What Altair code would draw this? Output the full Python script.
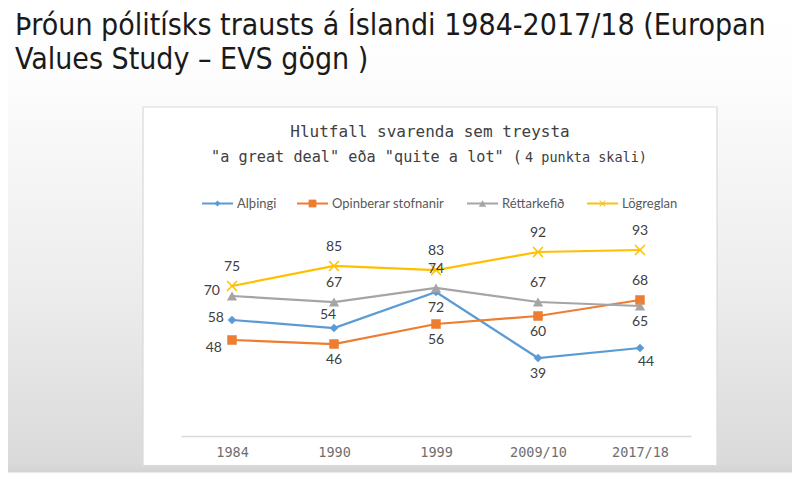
import altair as alt
import pandas as pd

years = ["1984", "1990", "1999", "2009/10", "2017/18"]
series = ["Alþingi", "Opinberar stofnanir", "Réttarkefið", "Lögreglan"]
althingi = [58, 54, 72, 39, 44]
opinberar = [48, 46, 56, 60, 68]
rettarkerfid = [70, 67, 74, 67, 65]
logreglan = [75, 85, 83, 92, 93]

colors = ["#5B9BD5", "#ED7D31", "#A5A5A5", "#FFC000"]
x_path = "M-1,-0.8L-0.8,-1L0,-0.2L0.8,-1L1,-0.8L0.2,0L1,0.8L0.8,1L0,0.2L-0.8,1L-1,0.8L-0.2,0Z"
shapes = ["diamond", "square", "triangle-up", x_path]
sizes = [75, 120, 110, 80]

# where each value label sits next to its point (layout only)
label_place = {
    "Alþingi": ["l", "tl", "b", "b", "br"],
    "Opinberar stofnanir": ["lb", "b", "b", "b", "t"],
    "Réttarkefið": ["lt", "t", "t", "t", "b"],
    "Lögreglan": ["t", "t", "t", "t", "t"],
}
places = {
    "t": (0, -19, "center"),
    "tl": (-6, -13, "center"),
    "b": (0, 16, "center"),
    "br": (6, 14, "center"),
    "l": (-8, -2, "right"),
    "lt": (-12, -5, "right"),
    "lb": (-10, 8, "right"),
}

rows = []
for name, vals in zip(series, [althingi, opinberar, rettarkerfid, logreglan]):
    for yr, v, p in zip(years, vals, label_place[name]):
        rows.append({"year": yr, "series": name, "value": v, "place": p})
df = pd.DataFrame(rows)

W, H = 510, 200
LABEL_FONT = "Lato"
SPACED_FONT = "DejaVu Sans Mono"
one = pd.DataFrame({"a": [0]})

x_enc = alt.X(
    "year:N",
    sort=years,
    scale=alt.Scale(type="point", padding=0.5),
    axis=alt.Axis(
        title=None, labelAngle=0, ticks=False, labelPadding=9, zindex=1,
        labelFont=SPACED_FONT, labelFontSize=13.5, labelColor="#6e6e6e",
        domainColor="#d9d9d9", domainWidth=1.5,
    ),
)
y_enc = alt.Y("value:Q", scale=alt.Scale(domain=[0, 100]), axis=None)
color_enc = alt.Color("series:N", sort=series, scale=alt.Scale(domain=series, range=colors), legend=None)

# slide background and chart frame
bg = alt.Chart(one).mark_rect(
    fill=alt.LinearGradient(
        gradient="linear", x1=0, x2=0, y1=0, y2=1,
        stops=[
            alt.GradientStop(color="#ffffff", offset=0),
            alt.GradientStop(color="#fdfdfd", offset=0.14),
            alt.GradientStop(color="#ececec", offset=0.62),
            alt.GradientStop(color="#dadada", offset=0.98),
            alt.GradientStop(color="#d3d3d3", offset=1),
        ],
    )
).encode(x=alt.value(-173), x2=alt.value(611), y=alt.value(-227.5), y2=alt.value(236.5))

frame = alt.Chart(one).mark_rect(fill="white", stroke="#d9d9d9", strokeWidth=1.2).encode(
    x=alt.value(-38), x2=alt.value(536), y=alt.value(-129), y2=alt.value(229.5)
)

main_title = [
    alt.Chart(one).mark_text(
        text=t, align="left", baseline="alphabetic",
        font="DejaVu Sans Condensed, Roboto, sans-serif",
        fontSize=30, color="#1a1a1a",
    ).encode(x=alt.value(-166), y=alt.value(yy))
    for t, yy in [
        ("Þróun pólitísks trausts á Íslandi 1984-2017/18 (Europan", -201),
        ("Values Study – EVS gögn )", -167),
    ]
]

chart_title = [
    alt.Chart(one).mark_text(
        text="Hlutfall svarenda sem treysta", align="center", baseline="middle",
        font=SPACED_FONT, fontSize=16, color="#404040",
    ).encode(x=alt.value(249), y=alt.value(-104.5)),
    alt.Chart(one).mark_text(
        text='"a great deal" eða "quite a lot" (', align="right", baseline="alphabetic",
        font=SPACED_FONT, fontSize=15.2, color="#404040",
    ).encode(x=alt.value(341), y=alt.value(-74.5)),
    alt.Chart(one).mark_text(
        text="4 punkta skali)", align="left", baseline="alphabetic",
        font=SPACED_FONT, fontSize=13.5, color="#404040",
    ).encode(x=alt.value(344), y=alt.value(-74.5)),
]

# legend row
legend_x0 = [21, 116, 286, 406]
legend_y = -32.5
legend = []
for i, name in enumerate(series):
    x0 = legend_x0[i]
    legend += [
        alt.Chart(one).mark_rule(color=colors[i], strokeWidth=2).encode(
            x=alt.value(x0), x2=alt.value(x0 + 31), y=alt.value(legend_y)
        ),
        alt.Chart(one).mark_point(
            shape=shapes[i], filled=True, opacity=1, color=colors[i], size=sizes[i] * 0.5
        ).encode(x=alt.value(x0 + 15.5), y=alt.value(legend_y)),
        alt.Chart(one).mark_text(
            text=name, align="left", baseline="middle", font=LABEL_FONT,
            fontSize=13, color="#595959",
        ).encode(x=alt.value(x0 + 35), y=alt.value(legend_y)),
    ]

lines = alt.Chart(df).mark_line(strokeWidth=2.25).encode(
    x=x_enc, y=y_enc, color=color_enc, detail="series:N"
)
points = alt.Chart(df).mark_point(filled=True, opacity=1).encode(
    x=x_enc, y=y_enc, color=color_enc,
    shape=alt.Shape("series:N", scale=alt.Scale(domain=series, range=shapes), legend=None),
    size=alt.Size("series:N", scale=alt.Scale(domain=series, range=sizes), legend=None),
)
labels = [
    alt.Chart(df).transform_filter(alt.datum.place == code).mark_text(
        dx=dx, dy=dy, align=al, baseline="middle", font=LABEL_FONT,
        fontSize=14, color="#404040",
    ).encode(x=x_enc, y=y_enc, text="value:Q")
    for code, (dx, dy, al) in places.items()
]

chart = alt.layer(
    bg, frame, *main_title, *chart_title, *legend, lines, points, *labels
).properties(width=W, height=H, padding=0).configure_view(stroke=None)

chart.save("out.html", embed_options={"renderer": "svg", "actions": False})
